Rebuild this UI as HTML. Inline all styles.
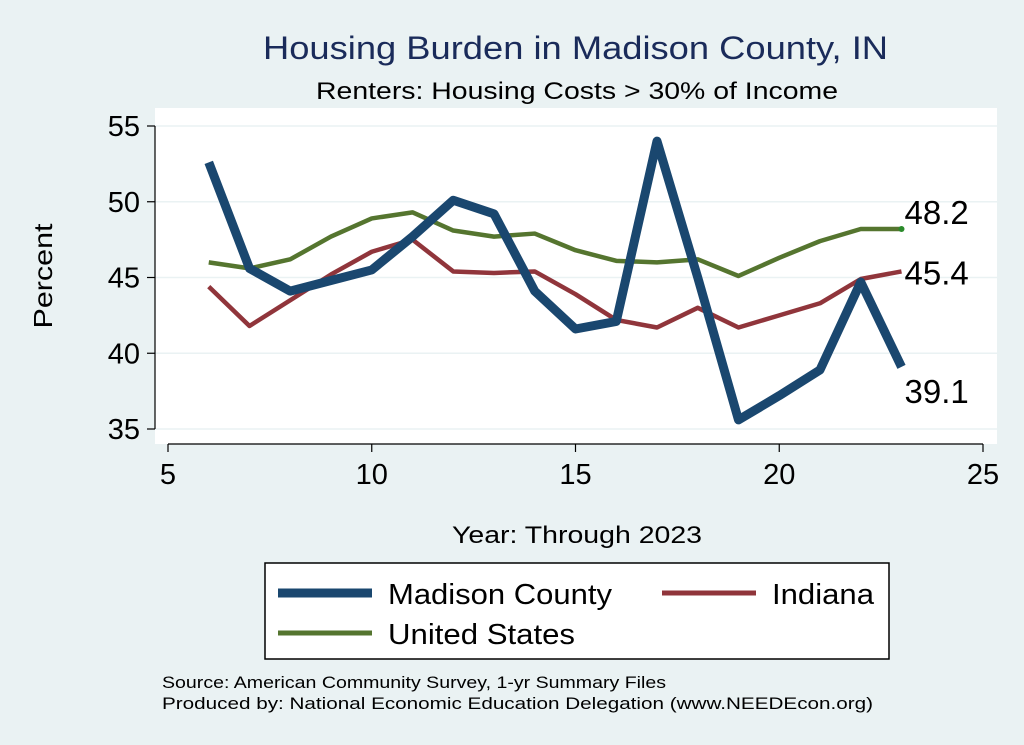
<!DOCTYPE html>
<html><head><meta charset="utf-8"><style>
body{margin:0;background:#eaf2f3;}
svg{display:block;font-family:"Liberation Sans",Arial,sans-serif;}
</style></head><body>
<svg width="1024" height="745">
<rect x="0" y="0" width="1024" height="745" fill="#eaf2f3"/>
<rect x="155" y="108" width="842" height="336" fill="#ffffff"/>
<text x="263" y="59" font-size="32" fill="#1a2b5a" textLength="625" lengthAdjust="spacingAndGlyphs">Housing Burden in Madison County, IN</text>
<text x="316" y="99" font-size="24" fill="#000" textLength="522" lengthAdjust="spacingAndGlyphs">Renters: Housing Costs &gt; 30% of Income</text>
<g id="grid"></g>
<g id="axes"></g>
<g id="series"></g>
<text x="52" y="276" font-size="26" text-anchor="middle" transform="rotate(-90 52 276)" textLength="105" lengthAdjust="spacingAndGlyphs">Percent</text>
<text x="452" y="543" font-size="24" textLength="250" lengthAdjust="spacingAndGlyphs">Year: Through 2023</text>
<g>
<rect x="265" y="563" width="624" height="96" fill="#fff" stroke="#000" stroke-width="1.5"/>
<line x1="278" y1="593" x2="372" y2="593" stroke="#1a476f" stroke-width="9"/>
<text x="388" y="604" font-size="29" textLength="224" lengthAdjust="spacingAndGlyphs">Madison County</text>
<line x1="662" y1="593" x2="756" y2="593" stroke="#90353b" stroke-width="5"/>
<text x="772" y="604" font-size="29" textLength="102" lengthAdjust="spacingAndGlyphs">Indiana</text>
<line x1="278" y1="633" x2="372" y2="633" stroke="#55752f" stroke-width="5"/>
<text x="388" y="644" font-size="29" textLength="187" lengthAdjust="spacingAndGlyphs">United States</text>
</g>
<text x="162" y="688" font-size="17" textLength="504" lengthAdjust="spacingAndGlyphs">Source: American Community Survey, 1-yr Summary Files</text>
<text x="162" y="709" font-size="17" textLength="711" lengthAdjust="spacingAndGlyphs">Produced by: National Economic Education Delegation (www.NEEDEcon.org)</text>
</svg>
<script>
const years=[6,7,8,9,10,11,12,13,14,15,16,17,18,19,20,21,22,23];
const madison=[52.6,45.6,44.1,44.8,45.5,47.7,50.1,49.2,44.1,41.6,42.1,54.0,45.0,35.6,37.2,38.9,44.7,39.1];
const indiana=[44.4,41.8,43.5,45.2,46.7,47.5,45.4,45.3,45.4,43.9,42.2,41.7,43.0,41.7,42.5,43.3,44.9,45.4];
const us=[46.0,45.6,46.2,47.7,48.9,49.3,48.1,47.7,47.9,46.8,46.1,46.0,46.2,45.1,46.3,47.4,48.2,48.2];
const xTicks=[5,10,15,20,25];
const yTicks=[35,40,45,50,55];
const NS='http://www.w3.org/2000/svg';
const X=v=>168+(v-5)*40.75;
const Y=v=>429-(v-35)*15.15;
function mk(tag,attrs,parent){const e=document.createElementNS(NS,tag);for(const k in attrs)e.setAttribute(k,attrs[k]);document.getElementById(parent).appendChild(e);return e;}
yTicks.forEach(t=>{
 const g=mk('line',{x1:155,x2:997,y1:Y(t),y2:Y(t),stroke:'#eaf2f3','stroke-width':1.5},'grid');
 
 
 const tk=mk('line',{x1:147,x2:155,y1:Y(t),y2:Y(t),stroke:'#000','stroke-width':1.2},'axes');
 
 
 const l=mk('text',{x:140,y:Y(t)+10,'font-size':29,'text-anchor':'end'},'axes');l.textContent=t;
 
 
});
const ya=mk('line',{x1:155,x2:155,y1:Y(55),y2:Y(35),stroke:'#000','stroke-width':1.2},'axes');


const xa=mk('line',{x1:X(5),x2:X(25),y1:444,y2:444,stroke:'#000','stroke-width':1.2},'axes');


xTicks.forEach(t=>{
 const tk=mk('line',{x1:X(t),x2:X(t),y1:444,y2:452,stroke:'#000','stroke-width':1.2},'axes');
 
 
 const l=mk('text',{x:X(t),y:484,'font-size':29,'text-anchor':'middle'},'axes');l.textContent=t;
 
 
});
function line(vals,color,w,name){
 const p=mk('polyline',{points:years.map((y,i)=>X(y)+','+Y(vals[i])).join(' '),fill:'none',stroke:color,'stroke-width':w,'stroke-linejoin':'round'},'series');
 
 
}
line(us,'#55752f',4.5,'us-line');
line(indiana,'#90353b',4.5,'indiana-line');
line(madison,'#1a476f',9,'madison-line');
const n=years.length-1;
const dot=mk('circle',{cx:X(years[n]),cy:Y(us[n]),r:3,fill:'#2a8a2a'},'series');


[[us,-5,'us-end-label'],[indiana,13,'indiana-end-label'],[madison,36,'madison-end-label']].forEach(([s,dy,nm])=>{
 const t=mk('text',{x:X(years[n])+3,y:Y(s[n])+dy,'font-size':33},'series');t.textContent=s[n].toFixed(1);
 
 
});
</script>
</body></html>
